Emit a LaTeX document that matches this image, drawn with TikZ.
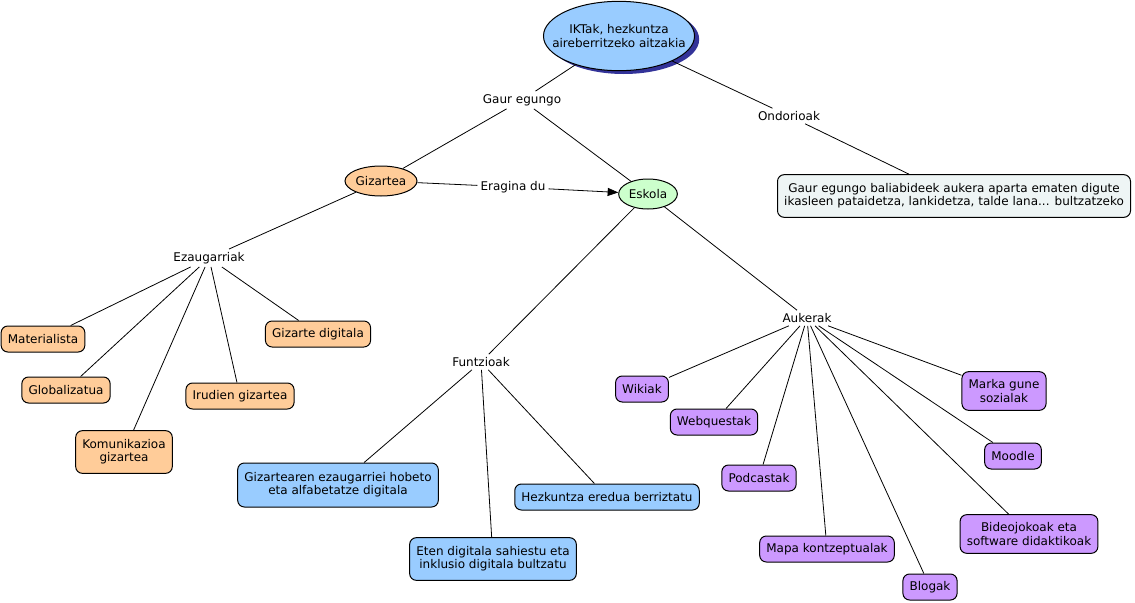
\documentclass[tikz,border=0pt]{standalone}
\usepackage{fontspec}
\setmainfont{DejaVu Sans}
\usetikzlibrary{shapes.geometric,shadows,arrows.meta}

\definecolor{rootblue}{RGB}{153,204,255}
\definecolor{rootshadow}{RGB}{51,51,153}
\definecolor{gizorange}{RGB}{255,204,153}
\definecolor{eskgreen}{RGB}{204,255,204}
\definecolor{funblue}{RGB}{153,204,255}
\definecolor{aukpurple}{RGB}{204,153,255}
\definecolor{ondgrey}{RGB}{238,245,245}

\tikzset{every picture/.style={line width=0.75pt}}
\tikzset{
  concept/.style={draw, rounded corners=5pt, align=center, inner xsep=5pt, inner ysep=2pt, minimum height=19.5pt, line width=0.75pt},
  bubble/.style={ellipse, draw, align=center, inner xsep=-10pt, inner ysep=-6pt, line width=0.75pt},
  linkword/.style={inner sep=2pt, fill=white},
  conn/.style={line width=0.6pt}
}

\begin{document}
\begin{tikzpicture}[x=0.75pt,y=0.75pt,yscale=-1,xscale=1,font=\fontsize{9}{9.9}\selectfont]
	\useasboundingbox (0,0) rectangle (1135,603);

	%Shape: Ellipse [root]
	\node (root) [bubble, fill=rootblue, minimum width=110pt, minimum height=52pt,
	  drop shadow={fill=rootshadow, opacity=1, shadow xshift=3.5pt, shadow yshift=-2.5pt}] at (619,36) {IKTak, hezkuntza\\aireberritzeko aitzakia};
	%Shape: Ellipse [gizartea]
	\node (gizartea) [bubble, fill=gizorange, minimum width=54pt, minimum height=22.5pt] at (381,181) {Gizartea};
	%Shape: Ellipse [eskola]
	\node (eskola) [bubble, fill=eskgreen, minimum width=44pt, minimum height=22.5pt] at (648,194) {Eskola};

	% Text Node
	\node (gaur) [linkword] at (522,100) {Gaur egungo};
	% Text Node
	\node (eragina) [linkword] at (513,187) {Eragina du};
	% Text Node
	\node (ondorioak) [linkword] at (789,116) {Ondorioak};
	% Text Node
	\node (ezaug) [linkword] at (209,258) {Ezaugarriak};
	% Text Node
	\node (funtz) [linkword] at (481,362) {Funtzioak};
	% Text Node
	\node (aukerak) [linkword] at (807,318) {Aukerak};

	%Shape: Rectangle [ondorioak box]
	\node (ondbox) [concept, fill=ondgrey, minimum height=32pt] at (954,196) {Gaur egungo baliabideek aukera aparta ematen digute\\ikasleen pataidetza, lankidetza, talde lana... bultzatzeko};

	%Shapes: Ezaugarriak leaves
	\node (materialista) [concept, fill=gizorange] at (43,339) {Materialista};
	\node (globalizatua) [concept, fill=gizorange] at (66,390) {Globalizatua};
	\node (komunikazioa) [concept, fill=gizorange, minimum height=32pt] at (124,452) {Komunikazioa\\gizartea};
	\node (irudien) [concept, fill=gizorange] at (240,396) {Irudien gizartea};
	\node (gizdigital) [concept, fill=gizorange] at (318,334) {Gizarte digitala};

	%Shapes: Funtzioak leaves
	\node (alfabetatze) [concept, fill=funblue, minimum height=33pt] at (338,485) {Gizartearen ezaugarriei hobeto\\eta alfabetatze digitala};
	\node (eten) [concept, fill=funblue, minimum height=32pt] at (493,559) {Eten digitala sahiestu eta\\inklusio digitala bultzatu};
	\node (hezkuntza) [concept, fill=funblue] at (607,497) {Hezkuntza eredua berriztatu};

	%Shapes: Aukerak leaves
	\node (wikiak) [concept, fill=aukpurple] at (642,389) {Wikiak};
	\node (webquest) [concept, fill=aukpurple] at (714,422) {Webquestak};
	\node (podcast) [concept, fill=aukpurple] at (759,478) {Podcastak};
	\node (mapa) [concept, fill=aukpurple] at (827,549) {Mapa kontzeptualak};
	\node (blogak) [concept, fill=aukpurple] at (930,587) {Blogak};
	\node (bideo) [concept, fill=aukpurple, minimum height=29pt] at (1029,534) {Bideojokoak eta\\software didaktikoak};
	\node (moodle) [concept, fill=aukpurple] at (1013,456) {Moodle};
	\node (marka) [concept, fill=aukpurple, minimum height=29pt] at (1004,391) {Marka gune\\sozialak};

	%Straight Lines
	\draw [conn] (root) -- (gaur);
	\draw [conn] (gaur) -- (gizartea);
	\draw [conn] (gaur) -- (eskola);
	\draw [conn] (root) -- (ondorioak);
	\draw [conn] (ondorioak) -- (ondbox);
	\draw [conn] (gizartea) -- (eragina);
	\draw [conn, -{Triangle[length=8pt,width=6pt]}] (eragina) -- (eskola);
	\draw [conn] (gizartea) -- (ezaug);
	\foreach \leaf in {materialista,globalizatua,komunikazioa,irudien,gizdigital}
	  \draw [conn] (ezaug) -- (\leaf);
	\draw [conn] (eskola) -- (funtz);
	\foreach \leaf in {alfabetatze,eten,hezkuntza}
	  \draw [conn] (funtz) -- (\leaf);
	\draw [conn] (eskola) -- (aukerak);
	\foreach \leaf in {wikiak,webquest,podcast,mapa,blogak,bideo,moodle,marka}
	  \draw [conn] (aukerak) -- (\leaf);

\end{tikzpicture}
\end{document}
